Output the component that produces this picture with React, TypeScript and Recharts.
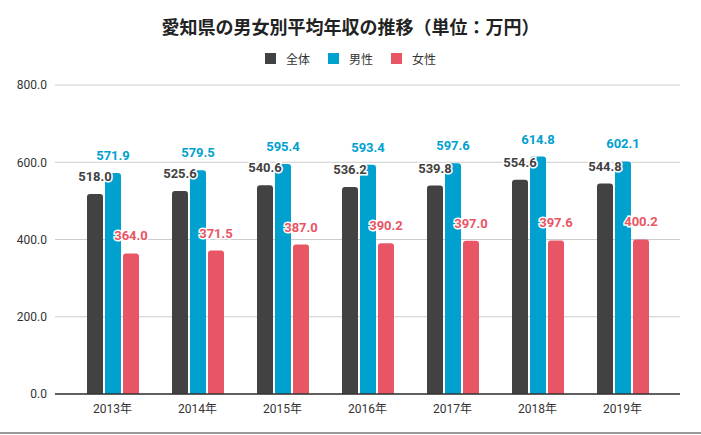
import { BarChart, Bar, XAxis, YAxis, CartesianGrid, LabelList } from "recharts";

const years = ["2013年", "2014年", "2015年", "2016年", "2017年", "2018年", "2019年"];
const total = [518.0, 525.6, 540.6, 536.2, 539.8, 554.6, 544.8];
const male = [571.9, 579.5, 595.4, 593.4, 597.6, 614.8, 602.1];
const female = [364.0, 371.5, 387.0, 390.2, 397.0, 397.6, 400.2];
const yTicks = [0, 200, 400, 600, 800];

const series = [
  { key: "total", name: "全体", color: "#424242" },
  { key: "male", name: "男性", color: "#00a0cf" },
  { key: "female", name: "女性", color: "#e85565" },
];

const data = years.map((year, i) => ({
  year,
  total: total[i],
  male: male[i],
  female: female[i],
}));

const font = "Roboto, 'Noto Sans CJK JP', sans-serif";

export default function App() {
  return (
    <div
      style={{
        position: "absolute",
        left: 0,
        top: 0,
        width: 701,
        height: 435,
        fontFamily: font,
        background: "#fff",
      }}
    >
      <div
        style={{
          position: "absolute",
          top: 13,
          left: 0,
          width: 701,
          textAlign: "center",
          fontSize: 18,
          fontWeight: "bold",
          color: "#222",
          fontFamily: "'Noto Sans CJK JP', sans-serif",
        }}
      >
        愛知県の男女別平均年収の推移（単位：万円）
      </div>
      <div
        style={{
          position: "absolute",
          top: 50,
          left: 0,
          width: 701,
          display: "flex",
          justifyContent: "center",
          fontSize: 12,
          color: "#333",
          fontFamily: "'Noto Sans CJK JP', sans-serif",
        }}
      >
        {series.map((s) => (
          <div key={s.key} style={{ display: "flex", alignItems: "center", margin: "0 9px" }}>
            <span style={{ width: 11, height: 11, background: s.color, display: "inline-block", marginRight: 10 }} />
            <span>{s.name}</span>
          </div>
        ))}
      </div>
      <BarChart
        width={701}
        height={433}
        data={data}
        margin={{ top: 85, right: 21, bottom: 9, left: 0 }}
        barSize={16}
        barGap={2}
        style={{ position: "absolute", top: 0, left: 0 }}
      >
        <CartesianGrid vertical={false} stroke="#cccccc" />
        <XAxis
          dataKey="year"
          padding={{ left: 15, right: 15 }}
          tickLine={false}
          axisLine={{ stroke: "#333", strokeWidth: 1.5 }}
          tick={{ fill: "#333", fontSize: 12, fontFamily: font }}
          tickMargin={4}
          height={30}
        />
        <YAxis
          domain={[0, 800]}
          ticks={yTicks}
          tickFormatter={(v: number) => v.toFixed(1)}
          axisLine={false}
          tickLine={false}
          width={55}
          tick={{ fill: "#333", fontSize: 12, fontFamily: font }}
        />
        {series.map((s) => (
          <Bar
            key={s.key}
            dataKey={s.key}
            name={s.name}
            fill={s.color}
            radius={[3, 3, 0, 0]}
            isAnimationActive={false}
          >
            <LabelList
              dataKey={s.key}
              position="top"
              offset={13}
              formatter={(v: number) => v.toFixed(1)}
              style={{
                fill: s.color,
                fontSize: 13,
                fontWeight: "bold",
                fontFamily: font,
                stroke: "#fff",
                strokeWidth: 3,
                paintOrder: "stroke",
              }}
            />
          </Bar>
        ))}
      </BarChart>
      <div
        style={{
          position: "absolute",
          left: 0,
          top: 432,
          width: 701,
          height: 2,
          background: "#999",
        }}
      />
    </div>
  );
}
